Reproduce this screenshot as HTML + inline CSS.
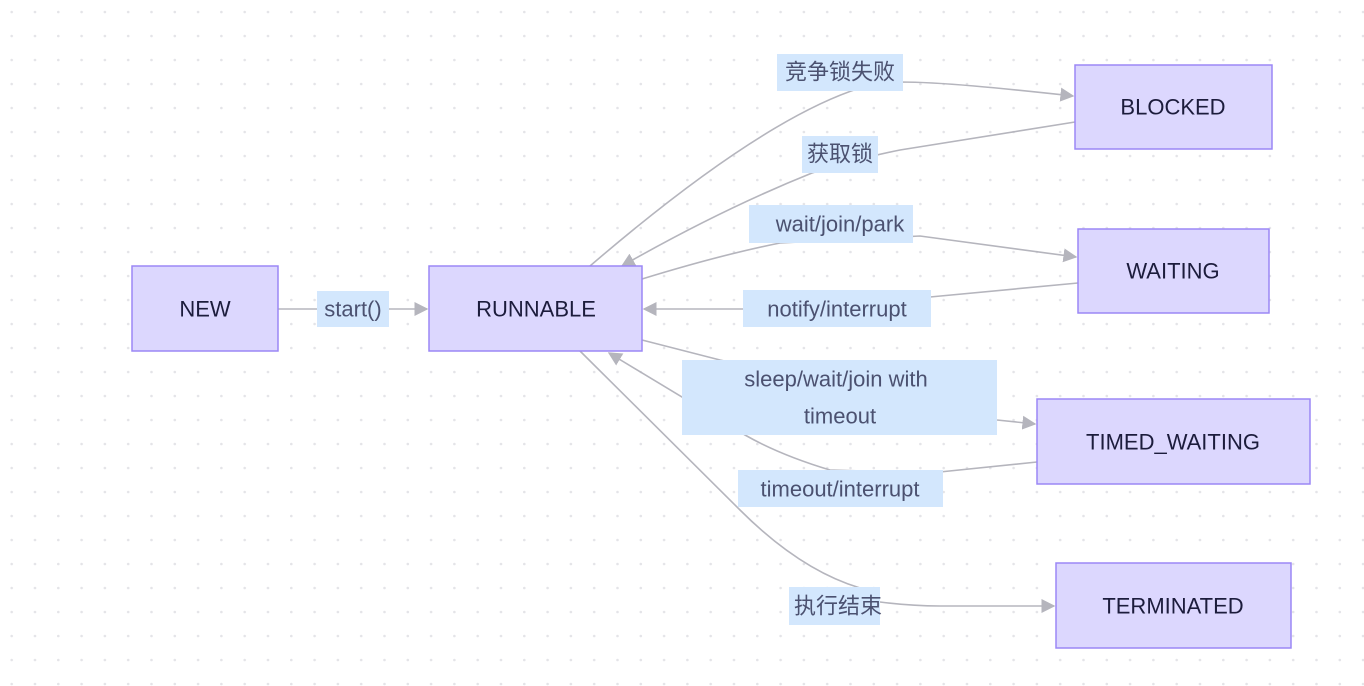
<!DOCTYPE html>
<html><head><meta charset="utf-8"><style>
html,body{margin:0;padding:0;background:#fff;}
svg{display:block;font-family:"Liberation Sans","Noto Sans CJK SC",sans-serif;}
.n{fill:#dcd7fe;stroke:#9b87f5;stroke-width:1.5}
.nt{font-size:22px;fill:#1c1c3c;text-anchor:middle;dominant-baseline:central}
.e{fill:none;stroke:#b5b5bd;stroke-width:1.6}
.lb{fill:#d3e7fd}
.lt{font-size:22px;fill:#4b5170;text-anchor:middle;dominant-baseline:central}
</style></head><body>
<svg width="1364" height="686" viewBox="0 0 1364 686" xmlns="http://www.w3.org/2000/svg">
<defs>
<pattern id="d" x="0" y="6" width="23.3" height="24" patternUnits="userSpaceOnUse">
<circle cx="11.7" cy="6" r="1.3" fill="#e4e4e8"/></pattern>
<marker id="a" viewBox="0 0 10 10" refX="9" refY="5" markerWidth="14" markerHeight="14" markerUnits="userSpaceOnUse" orient="auto">
<path d="M0,0 L10,5 L0,10 z" fill="#b5b5bd"/></marker>
</defs>
<rect width="1364" height="686" fill="url(#d)"/>
<!-- edges -->
<path class="e" d="M278,309 L427,309" marker-end="url(#a)"/>
<path class="e" d="M590,266 Q760,120 860,88 L900,82 C940,82 1000,88 1073,96" marker-end="url(#a)"/>
<path class="e" d="M1075,122 L900,150 Q860,158 812,173 Q720,210 622,266" marker-end="url(#a)"/>
<path class="e" d="M642,279 Q720,255 780,243 L920,236 L1076,257" marker-end="url(#a)"/>
<path class="e" d="M1078,283 L930,297 L800,309 L644,309" marker-end="url(#a)"/>
<path class="e" d="M642,340 L720,360 L997,420 L1035,424" marker-end="url(#a)"/>
<path class="e" d="M1037,462 L930,473 L830,470 Q780,455 745,435 L609,353" marker-end="url(#a)"/>
<path class="e" d="M580,351 L740,510 Q800,570 860,588 L880,602 Q910,606 940,606 L1054,606" marker-end="url(#a)"/>
<!-- nodes -->
<rect class="n" x="132" y="266" width="146" height="85"/><text class="nt" x="205" y="309">NEW</text>
<rect class="n" x="429" y="266" width="213" height="85"/><text class="nt" x="536" y="309">RUNNABLE</text>
<rect class="n" x="1075" y="65" width="197" height="84"/><text class="nt" x="1173" y="107">BLOCKED</text>
<rect class="n" x="1078" y="229" width="191" height="84"/><text class="nt" x="1173" y="271">WAITING</text>
<rect class="n" x="1037" y="399" width="273" height="85"/><text class="nt" x="1173" y="442">TIMED_WAITING</text>
<rect class="n" x="1056" y="563" width="235" height="85"/><text class="nt" x="1173" y="606">TERMINATED</text>
<!-- labels -->
<rect class="lb" x="317" y="291" width="72" height="36"/><text class="lt" x="353" y="309">start()</text>
<rect class="lb" x="777" y="54" width="126" height="37"/><text class="lt" x="840" y="72">竞争锁失败</text>
<rect class="lb" x="802" y="136" width="76" height="37"/><text class="lt" x="840" y="154">获取锁</text>
<rect class="lb" x="749" y="205" width="164" height="38"/><text class="lt" x="840" y="224">wait/join/park</text>
<rect class="lb" x="743" y="290" width="188" height="37"/><text class="lt" x="837" y="309">notify/interrupt</text>
<rect class="lb" x="682" y="360" width="315" height="75"/><text class="lt" x="836" y="379">sleep/wait/join with</text><text class="lt" x="840" y="416">timeout</text>
<rect class="lb" x="738" y="470" width="205" height="37"/><text class="lt" x="840" y="489">timeout/interrupt</text>
<rect class="lb" x="789" y="587" width="91" height="38"/><text class="lt" x="838" y="606">执行结束</text>
</svg>
</body></html>
